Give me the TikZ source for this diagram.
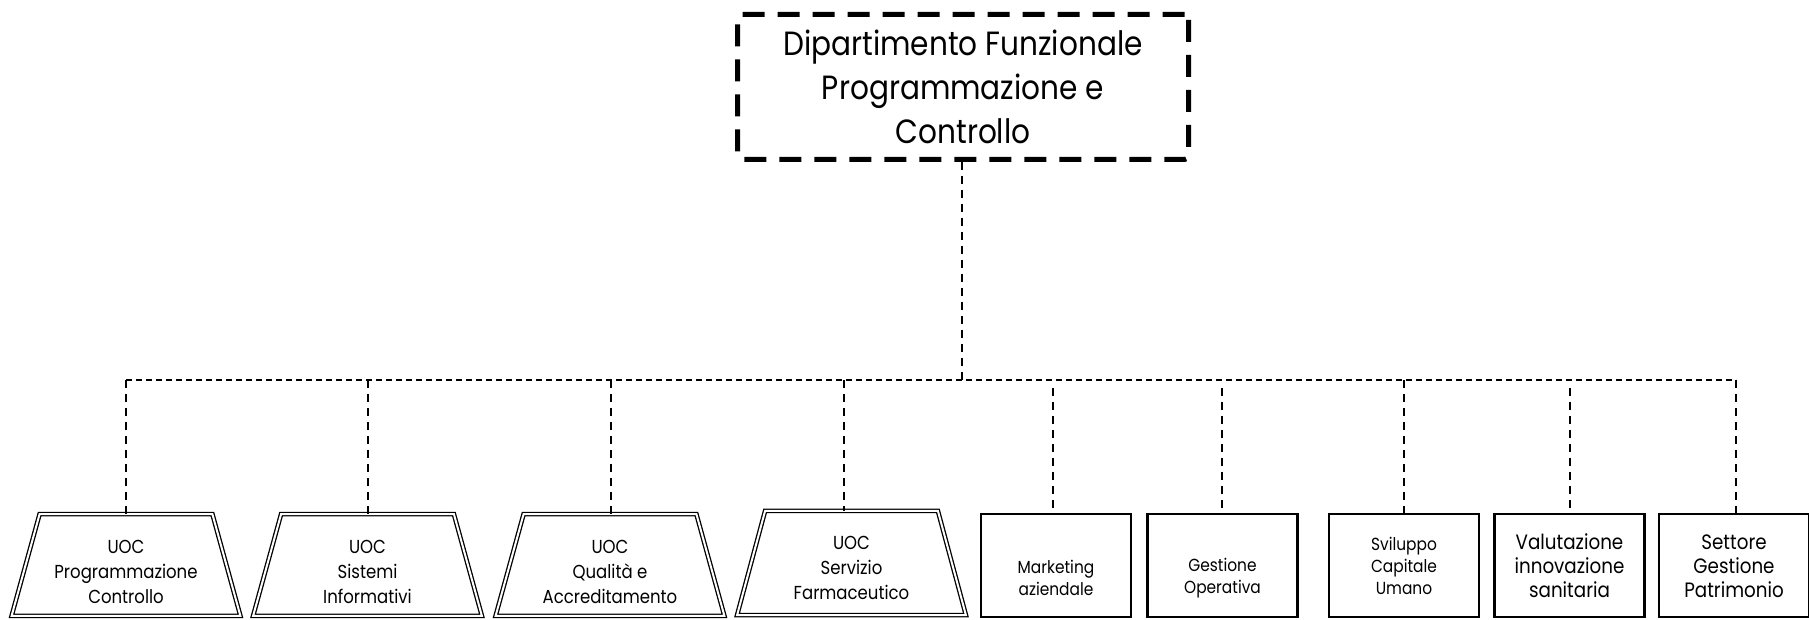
\documentclass[tikz,border=0pt]{standalone}
\usepackage{fontspec}
\setmainfont{Poppins}[FakeStretch=0.88]
\begin{document}
\begin{tikzpicture}[x=0.5pt,y=-0.5pt,
  topbox/.style={draw, line width=2.5pt, dash pattern=on 11pt off 6.5pt, rounded corners=2pt,
    minimum width=225.5pt, minimum height=72.5pt, inner sep=0pt, align=center,
    font=\fontsize{16.8}{22}\selectfont},
  uocframe/.style={minimum width=114pt, minimum height=50.5pt, inner sep=0pt},
  trap/.style={draw, line width=0.65pt, double, double distance=1pt, line join=miter},
  rectbox/.style={draw, line width=1.25pt, minimum width=75pt, minimum height=51.5pt, inner sep=0pt},
  uoctext/.style={align=center, inner sep=0pt, font=\fontsize{9.4}{12.5}\selectfont},
  smalltext/.style={align=center, inner sep=0pt, font=\fontsize{8.75}{11}\selectfont},
  midtext/.style={align=center, inner sep=0pt, font=\fontsize{10.4}{12}\selectfont},
  conn/.style={line width=0.7pt, dash pattern=on 4pt off 3pt},
  busline/.style={line width=0.75pt, dash pattern=on 3pt off 2pt}
]
\useasboundingbox (0,0) rectangle (1809,620);

% top box
\node[topbox] (top) at (963,87) {Dipartimento Funzionale\\Programmazione e\\Controllo};

% trapezia (frames)
\node[uocframe] (t1) at (126,565) {};
\node[uocframe] (t2) at (367.5,565) {};
\node[uocframe] (t3) at (610,565) {};
\node[uocframe, minimum height=51.7pt] (t4) at (851.5,563) {};
\foreach \t in {t1,t2,t3,t4}{
  \draw[trap] (\t.south west) -- (\t.south east) -- ([xshift=-14pt]\t.north east)
    -- ([xshift=14pt]\t.north west) -- cycle;
}
\node[uoctext] (l1) at (126,572) {UOC\\Programmazione\\Controllo};
\node[uoctext] (l2) at (367.5,572) {UOC\\Sistemi\\Informativi};
\node[uoctext] (l3) at (610,572) {UOC\\Qualità e\\Accreditamento};
\node[uoctext] (l4) at (851.5,568) {UOC\\Servizio\\Farmaceutico};

% rectangles
\node[rectbox] (r1) at (1056,565.5) {};
\node[rectbox] (r2) at (1222.5,565.5) {};
\node[rectbox] (r3) at (1404,565.5) {};
\node[rectbox] (r4) at (1569.5,565.5) {};
\node[rectbox] (r5) at (1734,565.5) {};
\node[smalltext] (m1) at (1056,578) {Marketing\\aziendale};
\node[smalltext] (m2) at (1222.5,578) {Gestione\\Operativa};
\node[smalltext] (m3) at (1404,565.5) {Sviluppo\\Capitale\\Umano};
\node[midtext] (m4) at (1569.5,566) {Valutazione\\innovazione\\sanitaria};
\node[midtext] (m5) at (1734,566) {Settore\\Gestione\\Patrimonio};

% bus
\coordinate (busL) at (126,380);
\coordinate (busR) at (1736,380);
\coordinate (busM) at (962,380);
\draw[busline] (busL) -- (busR);
\draw[conn] (top.south -| busM) -- (busM);

% drops
\coordinate (d1) at (126,380);
\coordinate (d2) at (368,380);
\coordinate (d3) at (611,380);
\coordinate (d4) at (844,380);
\coordinate (d5) at (1053,388);
\coordinate (d6) at (1222,388);
\coordinate (d7) at (1404,380);
\coordinate (d8) at (1570,388);
\coordinate (d9) at (1736,380);
\draw[conn] (d1) -- (d1 |- t1.north);
\draw[conn] (d2) -- (d2 |- t2.north);
\draw[conn] (d3) -- (d3 |- t3.north);
\draw[conn] (d4) -- (d4 |- t4.north);
\draw[conn] (d5) -- (d5 |- r1.north);
\draw[conn] (d6) -- (d6 |- r2.north);
\draw[conn] (d7) -- (d7 |- r3.north);
\draw[conn] (d8) -- (d8 |- r4.north);
\draw[conn] (d9) -- (d9 |- r5.north);
\end{tikzpicture}
\end{document}
